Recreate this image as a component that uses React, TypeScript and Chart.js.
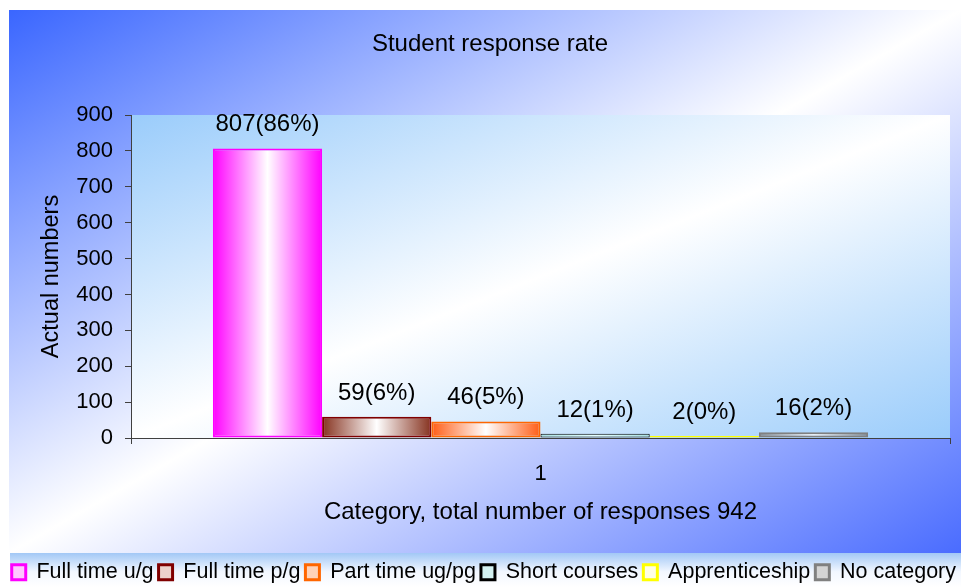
import React, { useEffect, useRef } from "react";
import { Chart, registerables } from "chart.js";

Chart.register(...registerables);

// ---------- data ----------
const categories = ["1"];
const seriesNames = [
  "Full time u/g",
  "Full time p/g",
  "Part time ug/pg",
  "Short courses",
  "Apprenticeship",
  "No category",
];
const seriesValues = [807, 59, 46, 12, 2, 16];
const totalResponses = 942;
const yMin = 0;
const yMax = 900;
const yStep = 100;
const chartTitle = "Student response rate";
const yTitle = "Actual numbers";
const xTitle = `Category, total number of responses ${totalResponses}`;

// ---------- styles ----------
const FONT = "'Liberation Sans', Arial, Helvetica, sans-serif";
const AXIS = "#404040";
const edgeColors = ["#ff00ff", "#800000", "#ff6600", "#000000", "#ffff00", "#808080"];
const borderWidths = [2, 2, 2, 1, 2, 2];
const gradEdge = ["#ff00ff", "#86321f", "#ff5c14", "#a8e0e0", "#ffff00", "#7a7a7a"];
const gradMid = ["#ffffff", "#ffffff", "#ffffff", "#e4ffff", "#ffffff", "#ffffff"];
const legendFill = ["#ffc8ff", "#ecd2cc", "#ffd2b8", "#d4f2f2", "#ffffe4", "#d4d4d4"];

function barFill(ctx: any, i: number) {
  const el = ctx.element;
  if (!el || el.x === undefined || el.width === undefined || isNaN(el.x)) return gradEdge[i];
  const c = ctx.chart.ctx as CanvasRenderingContext2D;
  const g = c.createLinearGradient(el.x - el.width / 2, 0, el.x + el.width / 2, 0);
  g.addColorStop(0, gradEdge[i]);
  g.addColorStop(0.5, gradMid[i]);
  g.addColorStop(1, gradEdge[i]);
  return g;
}

function diagGradientRect(
  c: CanvasRenderingContext2D,
  x: number,
  y: number,
  w: number,
  h: number,
  c0: string,
  c1: string,
  c2: string
) {
  c.save();
  c.translate(x, y);
  c.scale(w, h);
  const g = c.createLinearGradient(0, 0, 1, 1);
  g.addColorStop(0, c0);
  g.addColorStop(0.5, c1);
  g.addColorStop(1, c2);
  c.fillStyle = g;
  c.fillRect(0, 0, 1, 1);
  c.restore();
}

const backgroundPlugin = {
  id: "bgPlugin",
  beforeDraw(chart: any) {
    const c = chart.ctx as CanvasRenderingContext2D;
    const { chartArea } = chart;
    c.save();
    c.fillStyle = "#ffffff";
    c.fillRect(0, 0, chart.width, chart.height);
    // outer chart background
    diagGradientRect(c, 9, 10, 961 - 9, 553 - 10, "#3a66ff", "#ffffff", "#4a6cff");
    // legend band
    const lg = c.createLinearGradient(0, 553, 0, 587);
    lg.addColorStop(0, "#a2c8f6");
    lg.addColorStop(0.55, "#f2f7ff");
    lg.addColorStop(1, "#ffffff");
    c.fillStyle = lg;
    c.fillRect(10, 553, 961 - 10, 587 - 553);
    // plot area
    diagGradientRect(
      c,
      chartArea.left,
      chartArea.top,
      chartArea.right - chartArea.left,
      chartArea.bottom - chartArea.top,
      "#9accfb",
      "#ffffff",
      "#9accfb"
    );
    // title
    c.fillStyle = "#000";
    c.font = `24px ${FONT}`;
    c.textAlign = "center";
    c.textBaseline = "alphabetic";
    c.fillText(chartTitle, 490, 51);
    c.restore();
  },
};

const labelPlugin = {
  id: "valueLabels",
  afterDatasetsDraw(chart: any) {
    const c = chart.ctx as CanvasRenderingContext2D;
    c.save();
    c.fillStyle = "#000";
    c.font = `24px ${FONT}`;
    c.textAlign = "center";
    c.textBaseline = "alphabetic";
    chart.data.datasets.forEach((ds: any, di: number) => {
      const meta = chart.getDatasetMeta(di);
      meta.data.forEach((el: any, j: number) => {
        const v = ds.data[j] as number;
        const pct = Math.round((v / totalResponses) * 100);
        c.fillText(`${v}(${pct}%)`, el.x, el.y - 17);
      });
    });
    c.restore();
  },
};

export default function App() {
  const ref = useRef<HTMLCanvasElement | null>(null);

  useEffect(() => {
    if (!ref.current) return;
    const chart = new Chart(ref.current, {
      type: "bar",
      data: {
        labels: categories,
        datasets: seriesNames.map((name, i) => ({
          label: name,
          data: [seriesValues[i]],
          backgroundColor: (ctx: any) => barFill(ctx, i),
          borderColor: edgeColors[i],
          borderWidth: borderWidths[i],
          borderSkipped: false,
          minBarLength: 2,
          categoryPercentage: 0.8,
          barPercentage: 1,
          yAxisID: "y",
        })),
      },
      options: {
        responsive: false,
        animation: false,
        devicePixelRatio: 1,
        events: [],
        layout: { padding: { top: 115, left: 0, right: 0, bottom: 0 } },
        plugins: {
          title: { display: false },
          tooltip: { enabled: false },
          legend: {
            display: true,
            position: "bottom",
            align: "end",
            labels: {
              boxWidth: 14,
              boxHeight: 15,
              padding: 5,
              color: "#000",
              font: { family: FONT, size: 21.5 },
              generateLabels: () =>
                seriesNames.map((name, i) => ({
                  text: name,
                  fillStyle: legendFill[i],
                  strokeStyle: edgeColors[i],
                  lineWidth: 3,
                  hidden: false,
                  datasetIndex: i,
                  fontColor: "#000",
                })),
            },
          },
        },
        scales: {
          x: {
            type: "category",
            offset: true,
            grid: {
              display: true,
              drawOnChartArea: false,
              drawTicks: true,
              tickLength: 6,
              color: AXIS,
              offset: true,
            },
            border: { display: true, color: AXIS, width: 1 },
            ticks: { color: "#000", font: { family: FONT, size: 22 }, padding: 17 },
            title: {
              display: true,
              text: xTitle,
              color: "#000",
              font: { family: FONT, size: 24 },
              padding: { top: 0, bottom: 30 },
            },
            afterFit: (s: any) => {
              s.height = 118.5;
            },
          },
          y: {
            type: "linear",
            position: "left",
            min: yMin,
            max: yMax,
            ticks: {
              stepSize: yStep,
              autoSkip: false,
              color: "#000",
              font: { family: FONT, size: 22 },
              padding: 12,
            },
            grid: {
              display: true,
              drawOnChartArea: false,
              drawTicks: true,
              tickLength: 6,
              color: AXIS,
            },
            border: { display: true, color: AXIS, width: 1 },
            title: {
              display: true,
              text: yTitle,
              color: "#000",
              font: { family: FONT, size: 23.5 },
              padding: { top: 37, bottom: 0 },
            },
            afterFit: (s: any) => {
              s.width = 131;
            },
          },
          yRight: {
            type: "linear",
            position: "right",
            display: true,
            grid: { display: false },
            border: { display: false },
            ticks: { display: false },
            title: { display: false },
            afterFit: (s: any) => {
              s.width = 11;
            },
          },
        },
      } as any,
      plugins: [backgroundPlugin, labelPlugin],
    });
    // second pass so the bar gradients can use the laid-out bar geometry
    chart.update();
    return () => chart.destroy();
  }, []);

  return (
    <div
      style={{
        position: "fixed",
        left: 0,
        top: 0,
        width: 961,
        height: 587,
        overflow: "hidden",
        background: "#fff",
      }}
    >
      <canvas ref={ref} width={961} height={593} style={{ display: "block" }} />
    </div>
  );
}
